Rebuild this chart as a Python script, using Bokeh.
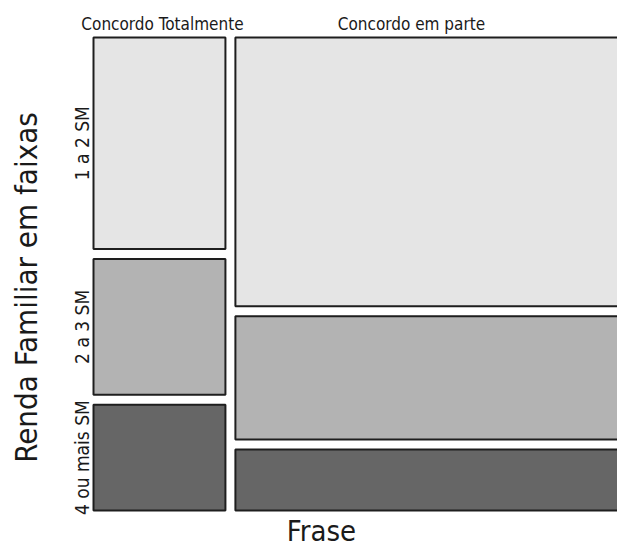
import math
from bokeh.plotting import figure
from bokeh.models import Range1d, ColumnDataSource
from bokeh.core.properties import value
from bokeh.embed import file_html
from bokeh.resources import INLINE

# ---- data (counts read from the mosaic areas) ----
frase = ["Concordo Totalmente", "Concordo em parte"]
renda = ["1 a 2 SM", "2 a 3 SM", "4 ou mais SM"]
counts_totalmente = [42, 27, 21]
counts_em_parte = [172, 79, 39]
row_colors = ["#e5e5e5", "#b3b3b3", "#666666"]

x_label = "Frase"
y_label = "Renda Familiar em faixas"

# ---- layout constants ----
W, H = 617, 546
GX = 0.0176          # horizontal gap between columns (mosaic units)
GY = 0.0211          # vertical gap between rows (mosaic units)
PX_X = 567.0         # pixels per mosaic x unit
PX_Y = 473.0         # pixels per mosaic y unit
LEFT_PX = 93         # px of mosaic left edge
TOP_PX = 37          # px of mosaic top
BOT_PX = 510         # px of mosaic bottom
FONT = "DejaVu Sans Condensed"

cols = [counts_totalmente, counts_em_parte]
totals = [sum(c) for c in cols]
N = sum(totals)

x_start = -LEFT_PX / PX_X
x_end = (W - LEFT_PX) / PX_X
y_start = -(H - BOT_PX) / PX_Y
y_end = 1 + TOP_PX / PX_Y

left, right, top, bottom, color = [], [], [], [], []
col_centers = []
row_centers_first = []
x0 = 0.0
for ci, c in enumerate(cols):
    w = (1 - GX * (len(cols) - 1)) * totals[ci] / N
    col_centers.append((x0 + min(x0 + w, x_end)) / 2)
    y0 = 1.0
    for ri, v in enumerate(c):
        h = (1 - GY * (len(c) - 1)) * v / totals[ci]
        left.append(x0)
        right.append(x0 + w)
        top.append(y0)
        bottom.append(y0 - h)
        color.append(row_colors[ri])
        if ci == 0:
            row_centers_first.append(y0 - h / 2)
        y0 = y0 - h - GY
    x0 = x0 + w + GX

# shift labels to match reference placement
col_label_x = [col_centers[0] + 3 / PX_X, col_centers[1] - 15 / PX_X]

p = figure(width=W, height=H, output_backend="svg", toolbar_location=None,
           x_range=Range1d(x_start, x_end), y_range=Range1d(y_start, y_end),
           min_border=0)
p.axis.visible = False
p.grid.visible = False
p.outline_line_color = None
p.background_fill_color = "white"
p.border_fill_color = "white"

src = ColumnDataSource(dict(left=left, right=right, top=top, bottom=bottom, color=color))
p.quad(left="left", right="right", top="top", bottom="bottom", source=src,
       fill_color="color", line_color="#1e1e1e", line_width=2)

# column labels
p.text(x=col_label_x, y=[1 + 14 / PX_Y] * len(frase), text=frase,
       text_font=value(FONT), text_font_size="17px", text_color="#1a1a1a",
       text_align="center", text_baseline="middle")

# row labels
p.text(x=[-12 / PX_X] * len(renda), y=row_centers_first, text=renda, angle=math.pi / 2,
       text_font=value(FONT), text_font_size="19px", text_color="#1a1a1a",
       text_align="center", text_baseline="middle")

# axis titles
p.text(x=[(321 - LEFT_PX) / PX_X], y=[-(530 - BOT_PX) / PX_Y], text=[x_label],
       text_font=value(FONT), text_font_size="29px", text_color="#1a1a1a",
       text_align="center", text_baseline="middle")
p.text(x=[(25 - LEFT_PX) / PX_X], y=[(BOT_PX - 287) / PX_Y], text=[y_label], angle=math.pi / 2,
       text_font=value(FONT), text_font_size="31px", text_color="#1a1a1a",
       text_align="center", text_baseline="middle")

open("out.html", "w").write(file_html(p, INLINE))
